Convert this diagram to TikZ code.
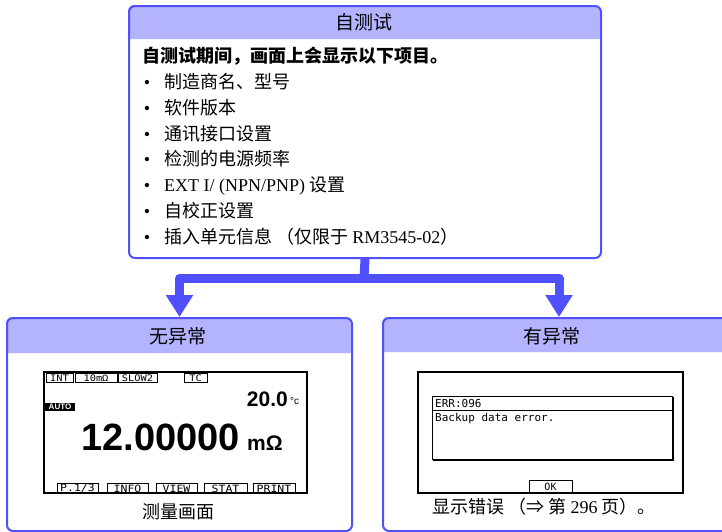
\documentclass[tikz,border=0pt]{standalone}
\usepackage{fontspec}
\setmainfont{Liberation Serif}
\newfontfamily\cjk{Noto Sans CJK SC}
\newfontfamily\lsans{Liberation Sans}
\newfontfamily\mono{DejaVu Sans Mono}
\usetikzlibrary{arrows.meta}
\definecolor{bdr}{RGB}{80,80,255}
\definecolor{hdr}{RGB}{179,179,255}
\begin{document}
\begin{tikzpicture}[x=1pt,y=-1pt,
  panel/.style={draw=bdr,line width=2pt,rounded corners=6pt,inner sep=0pt,anchor=north west},
  flow/.style={draw=bdr,line width=9pt},
  head/.style={font=\cjk\fontsize{19}{19}\selectfont,inner sep=0pt},
  item/.style={font=\cjk\fontsize{18}{18}\selectfont,anchor=base west,inner sep=0pt},
  bul/.style={font=\rmfamily\fontsize{18}{18}\selectfont,anchor=base,inner sep=0pt},
  lcd/.style={line width=1.2pt},
  tag/.style={font=\mono\fontsize{10}{10}\selectfont,inner sep=0pt},
  captxt/.style={font=\cjk\fontsize{18}{18}\selectfont,inner sep=0pt}]
\useasboundingbox (0,0) rectangle (722,531);
\clip (0,0) rectangle (722,531);

% ---------- top panel ----------
\fill[hdr] (128,39) {[rounded corners=6pt] -- (128,5) -- (600,5)} -- (600,39) -- cycle;
\node[panel,minimum width=472pt,minimum height=252pt] (top) at (128,5) {};
\node[head] (toph) at (364,22) {自测试};
\node[item,font=\cjk\bfseries\fontsize{18}{18}\selectfont] (t0) at (142,62) {自测试期间，画面上会显示以下项目。};
\foreach \yy/\txt [count=\i] in {
  88/{制造商名、型号},
  114/{软件版本},
  140/{通讯接口设置},
  165/{检测的电源频率},
  191/{{\rmfamily EXT I/ (NPN/PNP)} 设置},
  217/{自校正设置},
  243/{插入单元信息 （仅限于 {\rmfamily RM3545-02}）}}{
  \node[bul] (b\i) at (147,\yy) {•};
  \node[item] (t\i) at (164,\yy) {\txt};
}

% ---------- lower panels ----------
\fill[hdr] (6,353) {[rounded corners=6pt] -- (6,317) -- (351,317)} -- (351,353) -- cycle;
\node[panel,minimum width=345pt,minimum height=213pt] (left) at (6,317) {};
\node[head] (lefth) at (178,336) {无异常};

\fill[hdr] (382,352) {[rounded corners=6pt] -- (382,317) -- (734,317)} -- (734,352) -- cycle;
\node[panel,minimum width=352pt,minimum height=213pt] (right) at (382,317) {};
\node[head] (righth) at (552,336) {有异常};

% ---------- connectors ----------
\coordinate (junc) at (364,278);
\draw[flow] (top.south) -- (junc);
\draw[flow,line join=round,-{Triangle[width=26pt,length=22pt]}] (junc) -| (left.north);
\draw[flow,line join=round,-{Triangle[width=26pt,length=22pt]}] (junc) -| (right.north);

% ---------- measurement screen ----------
\draw[lcd] (44,372) rectangle (307,493);
\foreach \a/\b/\t [count=\i] in {46/73/INT,75/117/10mΩ,118/157/SLOW2,184/207/TC}{
  \draw[line width=0.9pt] (\a,373) rectangle (\b,382);
  \node[tag,font=\mono\fontsize{9}{9}\selectfont] (s\i) at ({(\a+\b)/2},378) {\scalebox{1.15}[1]{\t}};
}
\node[font=\lsans\bfseries\fontsize{21}{21}\selectfont,anchor=base east,inner sep=0pt] (temp) at (288,406) {20.0};
\node[font=\lsans\fontsize{10}{10}\selectfont,anchor=base west,inner sep=0pt] (unitc) at (290,404) {°c};
\node[fill=black,text=white,font=\lsans\bfseries\fontsize{8}{8}\selectfont,inner sep=0pt,minimum width=30pt,minimum height=8pt] (auto) at (60,407) {AUTO};
\node[font=\lsans\bfseries\fontsize{38}{38}\selectfont,anchor=base west,inner sep=0pt] (val) at (81,450) {12.00000};
\node[font=\lsans\bfseries\fontsize{21}{21}\selectfont,anchor=base west,inner sep=0pt] (unit) at (247,450) {mΩ};
\foreach \a/\b/\t [count=\i] in {57/98/{P.1/3},107/148/INFO,156/197/VIEW,204/247/STAT,253/295/PRINT}{
  \draw[line width=0.9pt] (\a,493) -- (\a,483) -- (\b,483) -- (\b,493);
  \node[tag] (k\i) at ({(\a+\b)/2},488.5) {\scalebox{1.15}[1]{\t}};
}
\node[captxt] (capl) at (178,512) {测量画面};

% ---------- error screen ----------
\draw[lcd] (418,372) rectangle (683,493);
\draw[line width=2pt] (433,460) -- (673,460) -- (673,397);
\draw[line width=1pt] (432,396) rectangle (672,459);
\draw[line width=1pt] (432,410) -- (672,410);
\node[tag,font=\mono\fontsize{11}{11}\selectfont,anchor=west] (err) at (435,403) {ERR:096};
\node[tag,font=\mono\fontsize{11}{11}\selectfont,anchor=west] (msg) at (435,418) {Backup data error.};
\draw[line width=0.9pt] (529,493) -- (529,480) -- (572,480) -- (572,493);
\node[tag,font=\mono\fontsize{10}{10}\selectfont] (ok) at (550.5,487) {OK};
\node[captxt] (capr) at (544,507) {显示错误 （⇒ 第 {\rmfamily 296} 页）。};
\end{tikzpicture}
\end{document}
